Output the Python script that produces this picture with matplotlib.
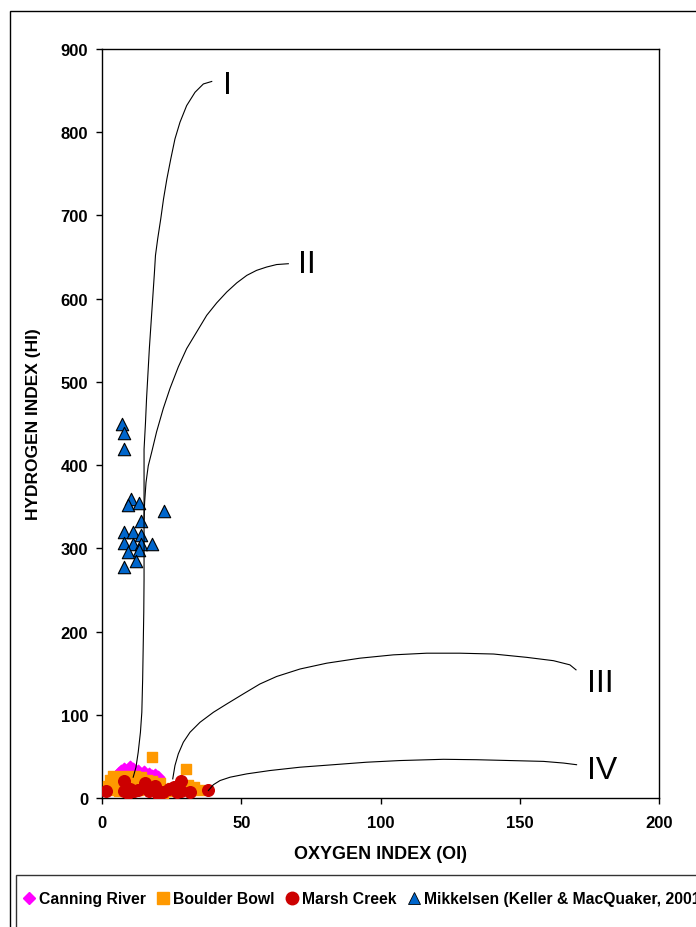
import matplotlib
matplotlib.use("Agg")
import matplotlib.pyplot as plt
from matplotlib.lines import Line2D
from matplotlib.patches import Rectangle

plt.rcParams['font.family'] = ['Liberation Sans', 'DejaVu Sans']

# --- data (OI, HI) ---
canning_oi = [6, 7, 8, 9, 10, 11, 12, 13, 14, 15, 16, 17, 18, 19, 20, 8, 11]
canning_hi = [30, 33, 35, 32, 37, 35, 30, 33, 28, 31, 27, 29, 26, 28, 25, 27, 25]

boulder_oi = [2, 3, 4, 4, 5, 6, 6, 7, 8, 9, 9, 10, 11, 12, 13, 13, 14, 15, 16, 17,
              18, 18, 19, 20, 21, 23, 25, 27, 29, 30, 31, 32, 33, 35, 22]
boulder_hi = [15, 22, 10, 27, 18, 24, 8, 15, 27, 20, 12, 25, 18, 27, 20, 10, 25, 15, 22, 12,
              49, 20, 16, 10, 18, 8, 12, 9, 14, 35, 16, 12, 13, 10, 5]

marsh_oi = [1.5, 8, 8, 10, 11.5, 9.5, 15.5, 17, 19, 22, 24, 26, 27, 28.5, 28.5, 31.5, 38, 13, 20]
marsh_hi = [8, 21, 9, 11, 8, 6, 18, 8, 15, 7, 11, 13, 7, 21, 9, 7, 10, 10, 5]

mikkelsen_oi = [7.3, 7.9, 7.9, 10.3, 9.2, 13.4, 22.4, 13.9, 7.9, 11, 13.9, 7.9, 11, 13.9,
                18.1, 13.3, 9.2, 12.1, 7.9]
mikkelsen_hi = [449, 438, 419, 359, 352, 354, 345, 333, 320, 320, 316, 307, 305, 305,
                305, 298, 296, 285, 277]

# kerogen type evolution paths
curve1_oi = [11.2, 12.2, 13.0, 13.8, 14.3, 14.6, 14.8, 15.0, 15.1, 15.1, 15.6, 16.0, 16.5,
             17.0, 17.6, 18.2, 18.8, 19.2, 20.0, 21.1, 22.1, 23.3, 24.7, 26.2, 28.0, 30.4,
             33.4, 36.4, 39.4]
curve1_hi = [25, 37, 55, 79, 103, 143, 183, 223, 263, 419, 450, 480, 510,
             540, 570, 600, 630, 652, 672, 696, 720, 744, 768, 792, 812, 832,
             848, 858, 861]
curve2_oi = [15.1, 15.3, 15.8, 16.6, 17.8, 19.6, 22.0, 24.4, 27.4, 30.4, 34.0, 37.6, 41.2,
             44.8, 48.4, 52.0, 55.5, 59.1, 62.7, 66.9]
curve2_hi = [335, 355, 379, 399, 415, 440, 468, 492, 518, 540, 560, 580, 595,
             608, 619, 628, 634, 638, 641, 642]
curve3_oi = [25.4, 26.2, 27.4, 29.2, 31.6, 35.2, 40.0, 44.8, 50.7, 56.7, 62.7, 71.1, 80.7,
             92.6, 104.6, 116.6, 128.5, 140.6, 152.5, 162.1, 168.0, 170.2]
curve3_hi = [23, 39, 53, 67, 79, 91, 103, 113, 125, 137, 146, 155, 162,
             168, 172, 174, 174, 173, 169, 165, 160, 154]
curve4_oi = [38.2, 40.0, 42.4, 46.0, 52.0, 60.3, 71.1, 83.1, 95.0, 107.0, 122.6, 134.5,
             146.5, 158.5, 165.7, 170.4]
curve4_hi = [9, 16, 21, 25, 29, 33, 37, 40, 43, 45, 46.5, 46,
             45, 44, 42, 40]

type_labels = ['I', 'II', 'III', 'IV']
type_label_oi = [45.2, 73.6, 179, 179.5]
type_label_hi = [857, 642, 138, 34]

W, H = 696, 928
fig = plt.figure(figsize=(W / 100, H / 100), dpi=100)
ax = fig.add_axes([102 / W, 1 - 799 / H, (659 - 102) / W, (799 - 50) / H])

ax.scatter(canning_oi, canning_hi, marker='D', s=40, color='#FF00FF', zorder=3)
ax.scatter(boulder_oi, boulder_hi, marker='s', s=55, color='#FF9900', zorder=4)
ax.scatter(marsh_oi, marsh_hi, marker='o', s=70, color='#CC0000', zorder=5)
ax.scatter(mikkelsen_oi, mikkelsen_hi, marker='^', s=80, color='#0066CC',
           edgecolors='black', linewidths=0.8, zorder=6)

for cx, cy in [(curve1_oi, curve1_hi), (curve2_oi, curve2_hi),
               (curve3_oi, curve3_hi), (curve4_oi, curve4_hi)]:
    ax.plot(cx, cy, color='black', lw=0.8, zorder=7, solid_joinstyle='round')

for t, tx, ty in zip(type_labels, type_label_oi, type_label_hi):
    ax.text(tx, ty, t, fontsize=23, ha='center', va='center', zorder=8)

ax.set_xlim(0, 200)
ax.set_ylim(0, 900)
ax.set_xticks([0, 50, 100, 150, 200])
ax.set_yticks(range(0, 901, 100))
ax.tick_params(direction='out', length=4, width=1, labelsize=12, pad=6)
ax.tick_params(axis='x', pad=8)
for lab in ax.get_xticklabels() + ax.get_yticklabels():
    lab.set_fontweight('bold')
ax.set_xlabel('OXYGEN INDEX (OI)', fontsize=13, fontweight='bold', labelpad=11)
ax.set_ylabel('HYDROGEN INDEX (HI)', fontsize=12.5, fontweight='bold', labelpad=14)
for sp in ax.spines.values():
    sp.set_linewidth(1)

# outer chart frame and legend box (both run off the right and bottom edges)
fig.patches.append(Rectangle((10 / W, -0.05), 1.1, 1 - 12 / H + 0.05, transform=fig.transFigure,
                             fill=False, edgecolor='black', lw=1))
fig.patches.append(Rectangle((16 / W, -0.05), 1.1, 1 - 876 / H + 0.05, transform=fig.transFigure,
                             fill=False, edgecolor='#333333', lw=1))

handles = [
    Line2D([], [], ls='', marker='D', ms=6, color='#FF00FF'),
    Line2D([], [], ls='', marker='s', ms=8, color='#FF9900'),
    Line2D([], [], ls='', marker='o', ms=9, color='#CC0000'),
    Line2D([], [], ls='', marker='^', ms=9, color='#0066CC', mec='black', mew=0.6),
]
labels = ['Canning River', 'Boulder Bowl', 'Marsh Creek', 'Mikkelsen (Keller & MacQuaker, 2001']
leg = fig.legend(handles, labels, loc='center left', bbox_to_anchor=(20 / W, 1 - 900 / H),
                 ncol=4, frameon=False, prop={'size': 11.3, 'weight': 'bold'},
                 handlelength=0.7, handletextpad=0.3, columnspacing=0.75,
                 borderpad=0.2, borderaxespad=0)

fig.savefig('out.png', dpi=100)
